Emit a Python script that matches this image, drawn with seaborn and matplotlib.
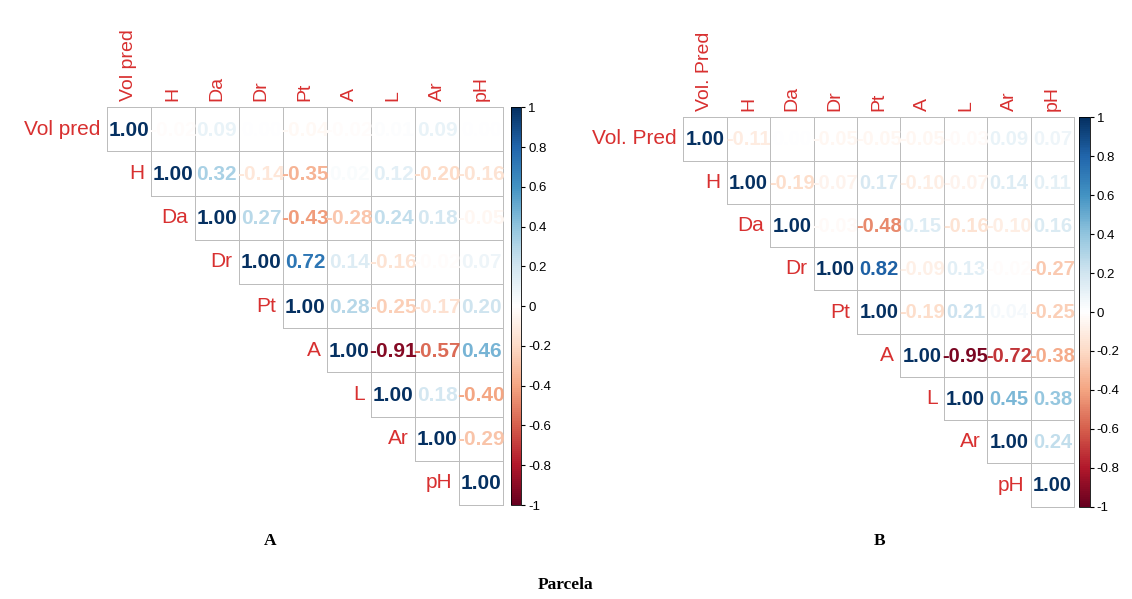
import numpy as np
import pandas as pd
import matplotlib
matplotlib.use("Agg")
import matplotlib.pyplot as plt
import seaborn as sns
from matplotlib.colors import ListedColormap, LinearSegmentedColormap, Normalize
from matplotlib.cm import ScalarMappable

# variables of each panel
vars_a = ["Vol pred", "H", "Da", "Dr", "Pt", "A", "L", "Ar", "pH"]
vars_b = ["Vol. Pred", "H", "Da", "Dr", "Pt", "A", "L", "Ar", "pH"]

# upper triangle of the correlation matrix, row by row (from the diagonal)
upper_a = [
    [1.00, -0.02, 0.09, 0.00, -0.04, -0.02, 0.01, 0.09, 0.00],
    [1.00, 0.32, -0.14, -0.35, 0.02, 0.12, -0.20, -0.16],
    [1.00, 0.27, -0.43, -0.28, 0.24, 0.18, -0.05],
    [1.00, 0.72, 0.14, -0.16, -0.02, 0.07],
    [1.00, 0.28, -0.25, -0.17, 0.20],
    [1.00, -0.91, -0.57, 0.46],
    [1.00, 0.18, -0.40],
    [1.00, -0.29],
    [1.00],
]
upper_b = [
    [1.00, -0.11, 0.00, -0.05, -0.05, -0.05, -0.03, 0.09, 0.07],
    [1.00, -0.19, -0.07, 0.17, -0.10, -0.07, 0.14, 0.11],
    [1.00, -0.03, -0.48, 0.15, -0.16, -0.10, 0.16],
    [1.00, 0.82, -0.09, 0.13, -0.02, -0.27],
    [1.00, -0.19, 0.21, 0.04, -0.25],
    [1.00, -0.95, -0.72, -0.38],
    [1.00, 0.45, 0.38],
    [1.00, 0.24],
    [1.00],
]

cbar_ticks = [1, 0.8, 0.6, 0.4, 0.2, 0, -0.2, -0.4, -0.6, -0.8, -1]
cbar_labels = ["1", "0.8", "0.6", "0.4", "0.2", "0", "-0.2", "-0.4", "-0.6", "-0.8", "-1"]

# corrplot's RdBu ramp (white in the middle)
rdbu = ["#67001F", "#B2182B", "#D6604D", "#F4A582", "#FDDBC7", "#FFFFFF",
        "#D1E5F0", "#92C5DE", "#4393C3", "#2166AC", "#053061"]
cmap = LinearSegmentedColormap.from_list("corr_rdbu", rdbu, N=200)
norm = Normalize(-1, 1)
label_red = "#d83030"
grid_grey = "#bdbdbd"


def build(names, upper):
    n = len(names)
    m = np.full((n, n), np.nan)
    for i, row in enumerate(upper):
        m[i, i:] = row
    return pd.DataFrame(m, index=names, columns=names)


def panel(ax, cax, df, fs):
    n = len(df)
    mask = np.tril(np.ones((n, n), dtype=bool), -1)
    sns.heatmap(df, mask=mask, cmap=ListedColormap(["white"]), cbar=False,
                linewidths=0.6, linecolor=grid_grey, ax=ax,
                xticklabels=False, yticklabels=False)
    # no cell borders in the empty lower triangle
    mesh = ax.collections[0]
    ec = np.zeros((n * n, 4))
    ec[~mask.ravel()] = matplotlib.colors.to_rgba(grid_grey)
    mesh.set_edgecolors(ec)
    mesh.set_clip_on(False)
    ax.set_xlim(0, n)
    ax.set_ylim(n, 0)
    for i in range(n):
        for j in range(i, n):
            v = df.iat[i, j]
            ax.text(j + 0.5, i + 0.52, f"{v:.2f}", color=cmap(norm(v)),
                    ha="center", va="center", fontsize=fs, fontweight="bold",
                    clip_on=False)
        ax.text(i - 0.15, i + 0.5, df.index[i], color=label_red, ha="right",
                va="center", fontsize=15)
        ax.text(i + 0.5, -0.15, df.columns[i], color=label_red, ha="center",
                va="bottom", rotation=90, fontsize=14)
    sm = ScalarMappable(norm=norm, cmap=cmap)
    cb = plt.colorbar(sm, cax=cax, ticks=cbar_ticks)
    cb.ax.set_yticklabels(cbar_labels)
    cb.ax.tick_params(labelsize=9.5, length=3, width=0.8, pad=2)
    cb.outline.set_linewidth(0.6)


plt.rcParams["font.family"] = ["Liberation Sans", "DejaVu Sans"]
fig = plt.figure(figsize=(11.32, 5.99), dpi=100)

ax_a = fig.add_axes([0.0943, 0.1569, 0.3504, 0.664])
cax_a = fig.add_axes([0.4512, 0.1569, 0.0093, 0.664])
ax_b = fig.add_axes([0.6036, 0.1541, 0.3454, 0.650])
cax_b = fig.add_axes([0.9532, 0.1541, 0.0093, 0.650])

panel(ax_a, cax_a, build(vars_a, upper_a), 15)
panel(ax_b, cax_b, build(vars_b, upper_b), 14.5)

fig.text(0.2385, 0.0968, "A", fontfamily="Liberation Serif", fontweight="bold",
         fontsize=12.5, ha="center", va="center")
fig.text(0.777, 0.0968, "B", fontfamily="Liberation Serif", fontweight="bold",
         fontsize=12.5, ha="center", va="center")
fig.text(0.5, 0.0234, "Parcela", fontfamily="Liberation Serif", fontweight="bold",
         fontsize=12.5, ha="center", va="center")

fig.savefig("out.png", dpi=100, facecolor="white")
